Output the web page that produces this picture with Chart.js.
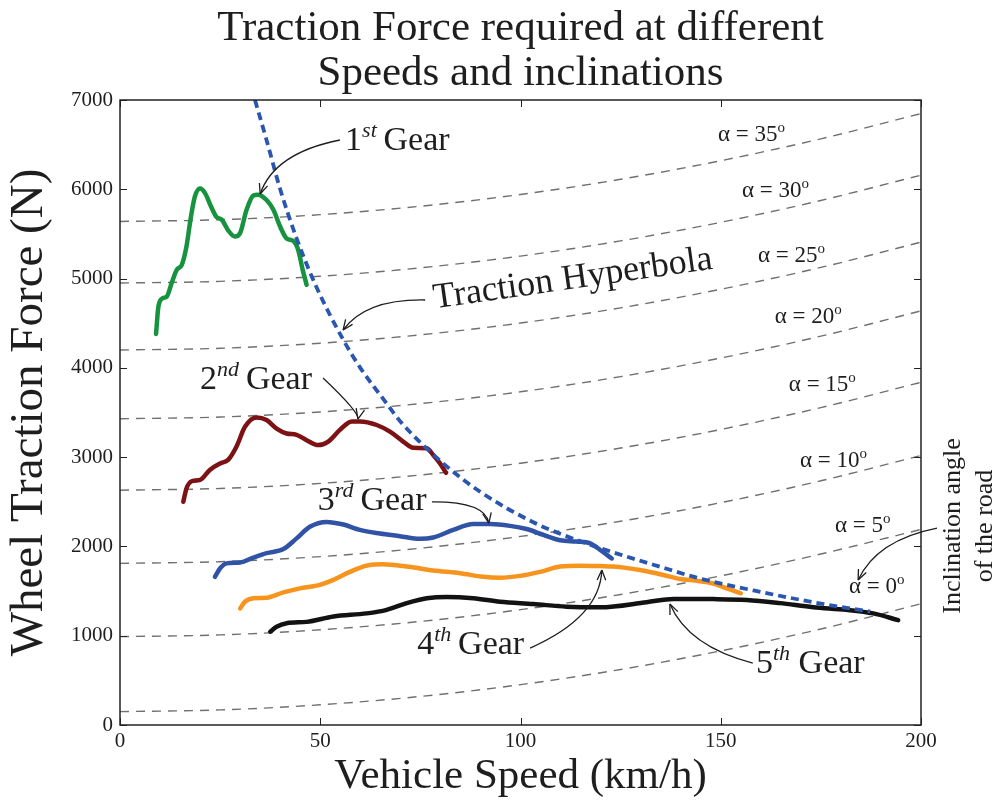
<!DOCTYPE html>
<html>
<head>
<meta charset="utf-8">
<script src="https://cdn.jsdelivr.net/npm/chart.js@4.4.1/dist/chart.umd.min.js"></script>
<style>
  html, body { margin: 0; padding: 0; background: #fff; }
  #wrap { width: 994px; height: 803px; }
</style>
</head>
<body>
<div id="wrap"><canvas id="chart"></canvas></div>
<script>
// Gear curves (speed km/h, force N)
const gear1Speed = [9.0, 9.6, 10.7, 11.7, 12.9, 14.2, 15.4, 16.6, 17.6, 18.7, 20.0, 21.2, 22.9, 24.1, 25.4, 27.0, 28.7, 30.0, 31.6, 33.3, 34.5, 36.6, 38.3, 40.0, 41.6, 43.3, 44.5, 45.6, 46.6];
const gear1Force = [4380, 4690, 4780, 4800, 4950, 5100, 5150, 5360, 5660, 5920, 6010, 5960, 5790, 5690, 5660, 5540, 5470, 5510, 5770, 5930, 5940, 5880, 5770, 5580, 5450, 5420, 5320, 5100, 4930];

const gear2Speed = [15.8, 16.6, 17.9, 20.0, 22.5, 25.0, 27.0, 29.1, 31.2, 34.1, 36.6, 39.1, 41.6, 44.1, 46.6, 49.5, 52.0, 54.9, 57.9, 59.9, 64.1, 67.4, 70.7, 73.2, 76.6, 78.2, 79.9, 81.4];
const gear2Force = [2500, 2650, 2730, 2745, 2860, 2930, 2970, 3120, 3340, 3445, 3415, 3320, 3265, 3250, 3190, 3135, 3175, 3305, 3400, 3400, 3360, 3285, 3175, 3105, 3100, 3025, 2930, 2825];

const gear3Speed = [23.7, 25.0, 26.6, 30.0, 33.3, 36.6, 40.8, 44.1, 47.4, 51.6, 55.8, 59.9, 64.9, 69.9, 74.9, 78.2, 83.2, 88.2, 92.4, 97.4, 101.5, 105.7, 109.9, 114.0, 117.4, 119.9, 122.8];
const gear3Force = [1660, 1755, 1810, 1820, 1875, 1925, 1970, 2090, 2220, 2275, 2245, 2185, 2145, 2115, 2085, 2100, 2185, 2250, 2250, 2230, 2195, 2130, 2070, 2055, 2035, 1960, 1865];

const gear4Speed = [30.0, 31.2, 33.3, 36.6, 40.8, 44.9, 49.9, 53.3, 57.4, 61.6, 65.7, 71.6, 78.2, 84.9, 90.7, 94.9, 99.9, 104.9, 109.9, 114.9, 120.0, 123.2, 129.8, 135.7, 139.8, 144.0, 148.1, 151.5, 155.0];
const gear4Force = [1305, 1380, 1420, 1425, 1485, 1530, 1570, 1625, 1715, 1785, 1800, 1775, 1730, 1700, 1660, 1650, 1670, 1715, 1775, 1785, 1780, 1775, 1735, 1680, 1635, 1615, 1585, 1530, 1475];

const gear5Speed = [37.5, 39.1, 41.6, 46.6, 53.3, 61.6, 66.6, 71.6, 76.6, 81.6, 88.2, 94.9, 103.2, 111.5, 119.9, 131.5, 138.2, 148.1, 156.5, 164.8, 173.1, 181.4, 188.1, 194.3];
const gear5Force = [1045, 1100, 1140, 1155, 1215, 1250, 1290, 1365, 1420, 1435, 1420, 1380, 1355, 1325, 1318, 1375, 1412, 1410, 1400, 1365, 1320, 1290, 1250, 1175];

// Traction hyperbola
const hyperSpeed = [33.7, 36.6, 40, 44.1, 49.1, 55.8, 60, 66.6, 70, 80.7, 90, 103.2, 110, 120, 136.5, 144, 160, 175, 187.3];
const hyperForce = [7000, 6550, 6000, 5450, 4900, 4310, 4000, 3600, 3400, 2930, 2610, 2270, 2140, 1980, 1750, 1650, 1490, 1360, 1270];

// Road resistance for each inclination angle
const slopeSpeed = [0, 25, 50, 75, 100, 125, 150, 175, 200];
const slopeAngles = [0, 5, 10, 15, 20, 25, 30, 35];
const slope0  = [150, 169, 226, 320, 452, 622, 830, 1075, 1358];
const slope5  = [990, 1009, 1066, 1160, 1292, 1462, 1670, 1915, 2190];
const slope10 = [1810, 1829, 1886, 1980, 2112, 2282, 2490, 2735, 3018];
const slope15 = [2630, 2649, 2706, 2800, 2932, 3102, 3310, 3555, 3838];
const slope20 = [3430, 3449, 3506, 3600, 3732, 3902, 4110, 4355, 4638];
const slope25 = [4200, 4219, 4276, 4370, 4502, 4672, 4880, 5125, 5408];
const slope30 = [4950, 4969, 5026, 5120, 5252, 5422, 5630, 5875, 6158];
const slope35 = [5640, 5659, 5716, 5810, 5942, 6112, 6320, 6565, 6848];

// Tick labels
const xTickValues = [0, 50, 100, 150, 200];
const yTickValues = [0, 1000, 2000, 3000, 4000, 5000, 6000, 7000];

const titleLines = ['Traction Force required at different', 'Speeds and inclinations'];

const FONT = "'Liberation Serif', 'Times New Roman', serif";
const INK = '#1e1e1e';

const zip = (xs, ys) => xs.map((x, i) => ({ x: x, y: ys[i] }));

const slopeSeries = [slope0, slope5, slope10, slope15, slope20, slope25, slope30, slope35];

const datasets = [
    {
        data: zip(hyperSpeed, hyperForce),
        borderColor: '#2b56b0',
        borderWidth: 3.8,
        borderDash: [8, 5],
        borderCapStyle: 'butt',
        order: 0
    },
    { data: zip(gear1Speed, gear1Force), borderColor: '#17923f', borderWidth: 4.5, order: 1 },
    { data: zip(gear2Speed, gear2Force), borderColor: '#7c1214', borderWidth: 4.5, order: 1 },
    { data: zip(gear3Speed, gear3Force), borderColor: '#3153a6', borderWidth: 4.5, order: 1 },
    { data: zip(gear4Speed, gear4Force), borderColor: '#f7941e', borderWidth: 4.5, order: 1 },
    { data: zip(gear5Speed, gear5Force), borderColor: '#121212', borderWidth: 4.5, order: 1 },
];
slopeSeries.forEach(s => {
    datasets.push({
        data: zip(slopeSpeed, s),
        borderColor: '#707070',
        borderWidth: 1.4,
        borderDash: [9, 7],
        borderCapStyle: 'butt',
        order: 2
    });
});

// Annotations (data coordinates)
const gearLabels = [
    { parts: [{ t: '1' }, { t: 'st', sup: true }, { t: '\u2009Gear' }], x: 56.2, y: 6440 },
    { parts: [{ t: '2' }, { t: 'nd', sup: true }, { t: '\u2009Gear' }], x: 20.0, y: 3763 },
    { parts: [{ t: '3' }, { t: 'rd', sup: true }, { t: '\u2009Gear' }], x: 49.4, y: 2408 },
    { parts: [{ t: '4' }, { t: 'th', sup: true }, { t: '\u2009Gear' }], x: 74.2, y: 795 },
    { parts: [{ t: '5' }, { t: 'th', sup: true }, { t: ' Gear' }], x: 158.8, y: 582 },
];
const angleLabels = [
    { a: 35, x: 149.3, y: 6541 },
    { a: 30, x: 155.3, y: 5914 },
    { a: 25, x: 159.3, y: 5186 },
    { a: 20, x: 163.5, y: 4502 },
    { a: 15, x: 167.0, y: 3741 },
    { a: 10, x: 169.8, y: 2890 },
    { a: 5, x: 178.5, y: 2162 },
    { a: 0, x: 182.0, y: 1478 },
];
// start, control, tip
const arrows = [
    [[54.9, 6552], [38.5, 6406], [35.0, 5947]],
    [[76.2, 4760], [61.4, 4772], [55.7, 4424]],
    [[50.7, 3886], [59.8, 3500], [59.4, 3427]],
    [[77.9, 2498], [91.1, 2503], [92.1, 2262]],
    [[102.4, 862], [119.9, 1210], [120.3, 1736]],
    [[158.0, 694], [141.9, 879], [137.3, 1355]],
    [[204.0, 2206], [188.9, 2072], [184.3, 1624]],
];

function drawRich(ctx, parts, x, y, size) {
    let cx = x;
    parts.forEach(p => {
        const style = p.sup && !p.upright ? 'italic ' : '';
        ctx.font = p.sup ? `${style}${Math.round(size * 0.66)}px ${FONT}` : `${size}px ${FONT}`;
        ctx.fillText(p.t, cx, p.sup ? y - size * 0.38 : y);
        cx += ctx.measureText(p.t).width;
    });
}

const annotatePlugin = {
    id: 'annotate',
    afterDraw(chart) {
        const { ctx, chartArea: a, scales: { x, y } } = chart;
        const px = v => x.getPixelForValue(v);
        const py = v => y.getPixelForValue(v);
        ctx.save();

        // frame with inward ticks on all four sides
        ctx.strokeStyle = '#222';
        ctx.lineWidth = 1.5;
        ctx.strokeRect(a.left, a.top, a.right - a.left, a.bottom - a.top);
        ctx.lineWidth = 1;
        ctx.beginPath();
        xTickValues.forEach(v => {
            const p = Math.round(px(v)) + 0.5;
            ctx.moveTo(p, a.bottom); ctx.lineTo(p, a.bottom - 7);
            ctx.moveTo(p, a.top); ctx.lineTo(p, a.top + 7);
        });
        yTickValues.forEach(v => {
            const p = Math.round(py(v)) + 0.5;
            ctx.moveTo(a.left, p); ctx.lineTo(a.left + 7, p);
            ctx.moveTo(a.right, p); ctx.lineTo(a.right - 7, p);
        });
        ctx.stroke();

        ctx.fillStyle = INK;
        ctx.strokeStyle = INK;
        ctx.textBaseline = 'alphabetic';

        // title, centred over the plot area
        ctx.textAlign = 'center';
        ctx.font = `43px ${FONT}`;
        const mid = (a.left + a.right) / 2;
        ctx.fillText(titleLines[0], mid, a.top - 60);
        ctx.fillText(titleLines[1], mid, a.top - 15);

        ctx.textAlign = 'left';
        gearLabels.forEach(l => drawRich(ctx, l.parts, px(l.x), py(l.y), 34));

        angleLabels.forEach(l => {
            drawRich(ctx, [{ t: '\u03b1 = ' + l.a }, { t: 'o', sup: true, upright: true }], px(l.x), py(l.y), 23);
        });

        // rotated "Traction Hyperbola"
        ctx.save();
        ctx.translate(px(113.4), py(4889));
        ctx.rotate(-8.1 * Math.PI / 180);
        ctx.textAlign = 'center';
        ctx.font = `36px ${FONT}`;
        ctx.fillText('Traction Hyperbola', 0, 0);
        ctx.restore();

        // side note
        ctx.font = `26px ${FONT}`;
        ctx.textAlign = 'center';
        ctx.textBaseline = 'middle';
        [['Inclination angle', 208.0], ['of the road', 216.0]].forEach(([t, xv]) => {
            ctx.save();
            ctx.translate(px(xv), py(2229));
            ctx.rotate(-Math.PI / 2);
            ctx.fillText(t, 0, 0);
            ctx.restore();
        });

        // curved arrows
        ctx.lineWidth = 1.3;
        arrows.forEach(([s, c, e]) => {
            const sx = px(s[0]), sy = py(s[1]);
            const cx = px(c[0]), cy = py(c[1]);
            const ex = px(e[0]), ey = py(e[1]);
            ctx.beginPath();
            ctx.moveTo(sx, sy);
            ctx.quadraticCurveTo(cx, cy, ex, ey);
            ctx.stroke();
            const ang = Math.atan2(ey - cy, ex - cx);
            ctx.beginPath();
            [-0.4, 0.4].forEach(d => {
                ctx.moveTo(ex, ey);
                ctx.lineTo(ex - 11 * Math.cos(ang + d), ey - 11 * Math.sin(ang + d));
            });
            ctx.stroke();
        });
        ctx.restore();
    }
};

new Chart(document.getElementById('chart'), {
    type: 'line',
    data: { datasets: datasets },
    options: {
        responsive: true,
        maintainAspectRatio: false,
        animation: false,
        datasets: {
            line: {
                pointRadius: 0,
                fill: false,
                cubicInterpolationMode: 'monotone',
                borderCapStyle: 'round',
                borderJoinStyle: 'round'
            }
        },
        layout: { padding: { left: 0, right: 73, top: 100, bottom: 0 } },
        plugins: {
            legend: { display: false },
            tooltip: { enabled: false },
            title: { display: false }
        },
        scales: {
            x: {
                type: 'linear',
                min: 0,
                max: 200,
                afterBuildTicks: s => { s.ticks = xTickValues.map(v => ({ value: v })); },
                afterFit: s => { s.height = 78; },
                grid: { display: false, drawTicks: false },
                border: { display: false },
                ticks: { padding: 4, color: INK, font: { family: FONT, size: 21 }, callback: v => String(v) },
                title: {
                    display: true,
                    text: 'Vehicle Speed (km/h)',
                    color: INK,
                    font: { family: FONT, size: 43, lineHeight: 1 },
                    padding: { top: 0, bottom: 5 }
                }
            },
            y: {
                type: 'linear',
                min: 0,
                max: 7000,
                afterBuildTicks: s => { s.ticks = yTickValues.map(v => ({ value: v })); },
                afterFit: s => { s.width = 120; },
                grid: { display: false, drawTicks: false },
                border: { display: false },
                ticks: { padding: 7, color: INK, font: { family: FONT, size: 21 }, callback: v => String(v) },
                title: {
                    display: true,
                    text: 'Wheel Traction Force (N)',
                    color: INK,
                    font: { family: FONT, size: 47, lineHeight: 1 },
                    padding: { top: 6, bottom: 0 }
                }
            }
        }
    },
    plugins: [annotatePlugin]
});
</script>
</body>
</html>
